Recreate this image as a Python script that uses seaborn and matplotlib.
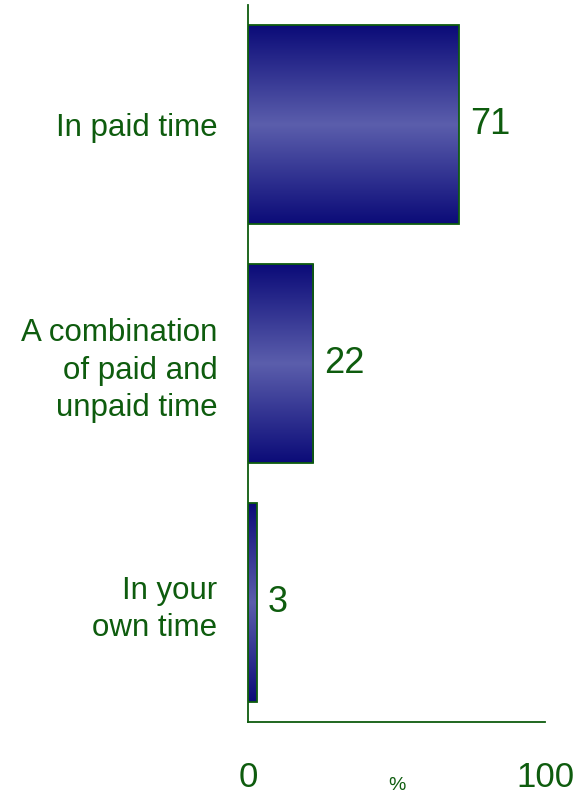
import numpy as np
import pandas as pd
import matplotlib
matplotlib.use('Agg')
import matplotlib.pyplot as plt
from matplotlib.colors import LinearSegmentedColormap
import seaborn as sns

# ----------------- data -----------------
categories = ['In paid time', 'A combination\nof paid and\nunpaid time', 'In your\nown time']
values = [71, 22, 3]
x_ticks = [0, 100]
# ----------------------------------------

GREEN = '#0e5c0e'
DARK = '#0b0b78'
LIGHT = '#5b5eac'

sns.set_style('white')
plt.rcParams['font.family'] = ['Liberation Sans', 'DejaVu Sans']

df = pd.DataFrame({'cat': categories, 'val': values})

fig = plt.figure(figsize=(5.77, 7.95), dpi=100)
ax = fig.add_axes([248 / 577, 1 - 722 / 795, 297 / 577, 717 / 795])

sns.barplot(data=df, x='val', y='cat', orient='h', ax=ax, width=0.83,
            color=DARK, edgecolor=GREEN, linewidth=1.3, saturation=1)

# vertical gradient in each bar: dark edges, lighter middle
cmap = LinearSegmentedColormap.from_list('bar', [DARK, LIGHT, DARK])
grad = np.linspace(0, 1, 256).reshape(-1, 1)
for p in ax.patches:
    x0, y0 = p.get_x(), p.get_y()
    w, h = p.get_width(), p.get_height()
    im = ax.imshow(grad, cmap=cmap, aspect='auto', extent=[x0, x0 + w, y0 + h, y0],
                   zorder=p.get_zorder() + 0.1, interpolation='bicubic')
    im.set_clip_path(p)
    p.set_facecolor('none')
    p.set_zorder(p.get_zorder() + 0.2)

ax.set_xlim(0, 100)
ax.set_ylim(2.5, -0.5)
ax.set_xticks(x_ticks)
ax.set_xticklabels([str(t) for t in x_ticks])
ax.set_xlabel('')
ax.set_ylabel('')

ax.tick_params(axis='x', length=0, pad=28, labelsize=25, labelcolor=GREEN)
ax.tick_params(axis='y', length=0, pad=22, labelsize=22.5, labelcolor=GREEN)
for lab in ax.get_yticklabels():
    lab.set_linespacing(1.32)

for s in ['top', 'right']:
    ax.spines[s].set_visible(False)
for s in ['left', 'bottom']:
    ax.spines[s].set_color(GREEN)
    ax.spines[s].set_linewidth(1.3)

for i, v in enumerate(values):
    ax.annotate(str(v), (v, i), xytext=(8, 0), textcoords='offset points',
                ha='left', va='center', fontsize=26, color=GREEN)

ax.text(0.5, -0.088, '%', transform=ax.transAxes, ha='center', va='center',
        fontsize=14, color=GREEN)

fig.savefig('out.png', dpi=100)
